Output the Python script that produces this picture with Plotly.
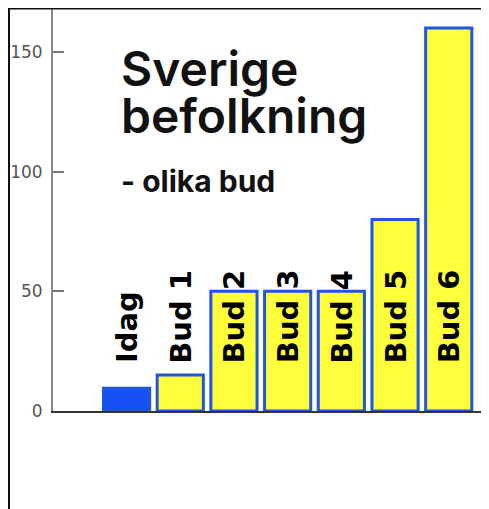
import plotly.graph_objects as go

categories = ["Idag", "Bud 1", "Bud 2", "Bud 3", "Bud 4", "Bud 5", "Bud 6"]
values = [9.5, 15, 50, 50, 50, 80, 160]
bar_colors = ["#1550f5", "#ffff3c", "#ffff3c", "#ffff3c", "#ffff3c", "#ffff3c", "#ffff3c"]
label_y = 19
title_lines = ["Sverige", "befolkning"]
subtitle = "- olika bud"
y_ticks = [0, 50, 100, 150]

# the page body adds an 8px margin; work in page pixels and subtract it
OFF = 8
W, H = 489 - OFF, 509 - OFF
plot_top, plot_bottom = 8, 411          # page pixels
plot_left = 53

def py(p):
    return (plot_bottom - p) / (plot_bottom - plot_top)

def px(p):
    return (p - plot_left) / (W + OFF - plot_left)

fig = go.Figure()
fig.add_trace(go.Bar(
    x=categories, y=values,
    marker=dict(color=bar_colors, line=dict(color="#1f55e0", width=3)),
    width=0.86,
    hoverinfo="skip",
))

annotations = []
for c in categories:
    annotations.append(dict(
        x=c, y=label_y, xref="x", yref="y", text=c, textangle=-90,
        showarrow=False, xanchor="center", yanchor="bottom",
        font=dict(family="DejaVu Sans", size=29, color="black", weight="bold"),
    ))

annotations.append(dict(x=px(119), y=py(69), xref="paper", yref="paper", text=title_lines[0],
                        showarrow=False, xanchor="left", yanchor="middle",
                        font=dict(family="Inter", size=48, color="#111", weight=600)))
annotations.append(dict(x=px(119), y=py(116), xref="paper", yref="paper", text=title_lines[1],
                        showarrow=False, xanchor="left", yanchor="middle",
                        font=dict(family="Inter", size=48, color="#111", weight=600)))
annotations.append(dict(x=px(119), y=py(181), xref="paper", yref="paper", text=subtitle,
                        showarrow=False, xanchor="left", yanchor="middle",
                        font=dict(family="Inter", size=30, color="#111", weight="bold")))

shapes = [
    dict(type="line", xref="paper", yref="paper", x0=px(7), x1=1.01, y0=py(8), y1=py(8),
         line=dict(color="#111", width=3)),
    dict(type="line", xref="paper", yref="paper", x0=px(8.5), x1=px(8.5), y0=py(6.5), y1=py(520),
         line=dict(color="#111", width=3)),
]

fig.update_layout(
    width=W, height=H,
    margin=dict(l=plot_left - OFF, r=0, t=plot_top - OFF, b=(509 - plot_bottom), pad=0,
                autoexpand=False),
    paper_bgcolor="white", plot_bgcolor="white",
    showlegend=False,
    annotations=annotations,
    shapes=shapes,
    xaxis=dict(range=[-1.37, 6.75], showticklabels=False, ticks="", showgrid=False,
               zeroline=False, showline=True, linecolor="#333", linewidth=2, fixedrange=True,
               automargin=False),
    yaxis=dict(range=[0, (plot_bottom - plot_top) / 2.3933], tickvals=y_ticks,
               ticks="inside", ticklen=11, tickcolor="#777", tickwidth=1.5,
               tickfont=dict(family="DejaVu Sans", size=17, color="#555"),
               showgrid=False, zeroline=False, showline=True, linecolor="#888", linewidth=2,
               ticklabelstandoff=5, automargin=False),
)
fig.write_html("out.html")
